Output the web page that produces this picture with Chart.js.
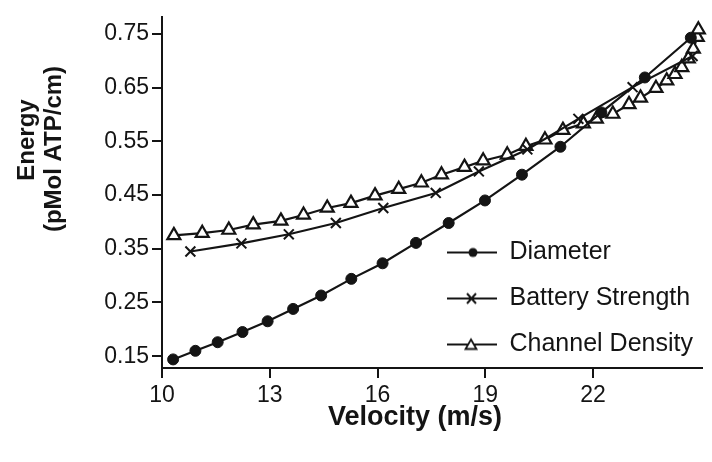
<!DOCTYPE html>
<html>
<head>
<meta charset="utf-8">
<script src="https://cdn.jsdelivr.net/npm/chart.js@4.4.1/dist/chart.umd.min.js"></script>
<style>
html,body{margin:0;padding:0;background:#fff;}
#wrap{width:712px;height:462px;position:relative;}
</style>
</head>
<body>
<div id="wrap"><canvas id="c" width="712" height="462"></canvas></div>
<script>
// ---- data ----
const xTicks = [10, 13, 16, 19, 22];
const yTicks = [0.15, 0.25, 0.35, 0.45, 0.55, 0.65, 0.75];
const seriesNames = ['Diameter', 'Battery Strength', 'Channel Density'];
const xTitle = 'Velocity (m/s)';
const yTitleLines = ['Energy', '(pMol ATP/cm)'];

const velocityDiameter = [10.31, 10.93, 11.55, 12.24, 12.94, 13.65, 14.43, 15.27, 16.14, 17.07, 17.98, 18.99, 20.02, 21.09, 22.23, 23.44, 24.72];
const energyDiameter   = [0.144, 0.160, 0.176, 0.195, 0.215, 0.238, 0.263, 0.294, 0.323, 0.361, 0.398, 0.440, 0.488, 0.540, 0.604, 0.669, 0.743];

const velocityBattery = [10.79, 12.21, 13.53, 14.84, 16.16, 17.62, 18.82, 20.17, 21.59, 23.10, 24.77];
const energyBattery   = [0.345, 0.360, 0.377, 0.398, 0.426, 0.454, 0.494, 0.535, 0.592, 0.651, 0.709];

const velocityChannel = [10.33, 11.12, 11.86, 12.54, 13.31, 13.94, 14.60, 15.26, 15.93, 16.59, 17.22, 17.78, 18.42, 18.94, 19.61, 20.13, 20.66, 21.16, 21.73, 22.09, 22.55, 23.00, 23.32, 23.75, 24.05, 24.28, 24.47, 24.65, 24.79, 24.90, 24.93];
const energyChannel   = [0.375, 0.379, 0.385, 0.395, 0.402, 0.413, 0.426, 0.435, 0.449, 0.461, 0.473, 0.488, 0.502, 0.514, 0.525, 0.541, 0.553, 0.571, 0.583, 0.592, 0.601, 0.619, 0.631, 0.649, 0.663, 0.675, 0.688, 0.704, 0.722, 0.744, 0.758];

// ---- styling ----
const INK = '#141414';
const FONT = "'Liberation Sans', Arial, Helvetica, sans-serif";

function pts(xs, ys) { return xs.map((x, i) => ({ x: x, y: ys[i] })); }

function legendIcon(style) {
  const c = document.createElement('canvas');
  c.width = 50; c.height = 16;
  const g = c.getContext('2d');
  g.strokeStyle = INK; g.lineWidth = 2;
  g.beginPath(); g.moveTo(0, 8); g.lineTo(50, 8); g.stroke();
  if (style === 'circle') {
    g.fillStyle = INK; g.beginPath(); g.arc(26, 8, 4.5, 0, Math.PI * 2); g.fill();
  } else if (style === 'crossRot') {
    g.beginPath(); g.moveTo(20, 3); g.lineTo(29, 13); g.moveTo(29, 3); g.lineTo(20, 13); g.stroke();
  } else {
    g.fillStyle = '#fff'; g.lineWidth = 1.8;
    g.beginPath(); g.moveTo(24, 3); g.lineTo(29.5, 12.5); g.lineTo(18.5, 12.5); g.closePath(); g.fill(); g.stroke();
  }
  return c;
}
const icons = [legendIcon('circle'), legendIcon('crossRot'), legendIcon('triangle')];

const placeLegend = {
  id: 'placeLegend',
  beforeDraw(chart) {
    const lg = chart.legend;
    if (!lg) return;
    const pad = lg.options.labels.padding;
    lg.left = 447 - pad; lg.top = 240 - pad; lg.right = 712; lg.bottom = 462;
    lg.width = lg.right - lg.left; lg.height = lg.bottom - lg.top;
  }
};

const axisTitles = {
  id: 'axisTitles',
  afterDraw(chart) {
    const ctx = chart.ctx;
    ctx.save();
    ctx.fillStyle = INK;
    ctx.textAlign = 'center';
    ctx.textBaseline = 'middle';
    ctx.font = 'bold 24px ' + FONT;
    ctx.save(); ctx.translate(27, 140); ctx.rotate(-Math.PI / 2); ctx.fillText(yTitleLines[0], 0, 0); ctx.restore();
    ctx.save(); ctx.translate(54, 149); ctx.rotate(-Math.PI / 2); ctx.fillText(yTitleLines[1], 0, 0); ctx.restore();
    ctx.font = 'bold 27px ' + FONT;
    ctx.textBaseline = 'alphabetic';
    ctx.fillText(xTitle, 415, 425);
    ctx.restore();
  }
};

const common = { borderColor: INK, borderWidth: 2.2, tension: 0, showLine: true, clip: false, pointHoverRadius: 0 };

new Chart(document.getElementById('c'), {
  type: 'scatter',
  data: {
    datasets: [
      Object.assign({}, common, {
        label: seriesNames[0], data: pts(velocityDiameter, energyDiameter),
        pointStyle: 'circle', pointRadius: 5.5, pointBackgroundColor: INK, pointBorderColor: INK, pointBorderWidth: 1
      }),
      Object.assign({}, common, {
        label: seriesNames[1], data: pts(velocityBattery, energyBattery),
        pointStyle: 'crossRot', pointRadius: 7, pointBorderColor: INK, pointBorderWidth: 2, pointBackgroundColor: INK
      }),
      Object.assign({}, common, {
        label: seriesNames[2], data: pts(velocityChannel, energyChannel),
        pointStyle: 'triangle', pointRadius: 7.5, pointBackgroundColor: '#ffffff', pointBorderColor: INK, pointBorderWidth: 2.2
      })
    ]
  },
  options: {
    responsive: false,
    animation: false,
    events: [],
    layout: { padding: { top: 7, right: 1, left: 0, bottom: 0 } },
    scales: {
      x: {
        type: 'linear', min: 10, max: 25.04,
        afterBuildTicks: s => { s.ticks = xTicks.map(v => ({ value: v })); },
        afterFit: s => { s.height = 94; },
        border: { color: INK, width: 2 },
        grid: { drawOnChartArea: false, drawTicks: true, tickLength: 10, color: INK, lineWidth: 2 },
        ticks: { color: INK, font: { family: FONT, size: 23 }, padding: 4, maxRotation: 0, autoSkip: false,
                 callback: v => String(v) },
        title: { display: false }
      },
      y: {
        type: 'linear', min: 0.128, max: 0.782,
        afterBuildTicks: s => { s.ticks = yTicks.map(v => ({ value: v })); },
        afterFit: s => { s.width = 162; },
        border: { color: INK, width: 2 },
        grid: { drawOnChartArea: false, drawTicks: true, tickLength: 10, color: INK, lineWidth: 2 },
        ticks: { color: INK, font: { family: FONT, size: 23 }, padding: 3, autoSkip: false,
                 callback: v => Number(v).toFixed(2) },
        title: { display: false }
      }
    },
    plugins: {
      tooltip: { enabled: false },
      legend: {
        display: true, position: 'chartArea', align: 'start',
        labels: {
          usePointStyle: true, pointStyleWidth: 50, padding: 21, color: INK,
          font: { family: FONT, size: 25 },
          generateLabels(chart) {
            const items = Chart.defaults.plugins.legend.labels.generateLabels(chart);
            items.forEach((it, i) => { it.pointStyle = icons[i]; it.fontColor = INK; });
            return items;
          }
        }
      }
    }
  },
  plugins: [placeLegend, axisTitles]
});
</script>
</body>
</html>
